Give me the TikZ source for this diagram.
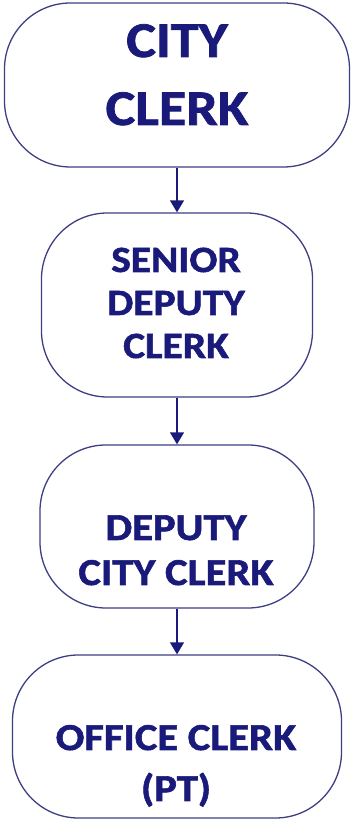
\documentclass[tikz,border=0pt]{standalone}
\usepackage{fontspec}
\setmainfont{Carlito}
\newfontfamily\rolefont{Carlito}[BoldFeatures={FakeStretch=1.12,FakeBold=1.5}]
\usetikzlibrary{arrows.meta}
\definecolor{navy}{RGB}{26,26,122}
\definecolor{boxline}{RGB}{62,62,132}
\tikzset{
  x=1pt, y=1pt,
  role/.style={draw=boxline, line width=1.3pt, rounded corners=66pt, fill=white, inner sep=0pt},
  bigtxt/.style={text=navy, font=\rolefont\fontsize{50}{60}\selectfont\bfseries, anchor=base, inner sep=0pt},
  midtxt/.style={text=navy, font=\rolefont\fontsize{37}{44}\selectfont\bfseries, anchor=base, inner sep=0pt},
  txt/.style={text=navy, font=\rolefont\fontsize{38}{45}\selectfont\bfseries, anchor=base, inner sep=0pt},
  link/.style={draw=navy, line width=1.4pt, -{Triangle[width=14pt,length=12pt]}}
}
\begin{document}
\begin{tikzpicture}
  \useasboundingbox (0,0) rectangle (352,819);
  % boxes (y measured upwards from the bottom edge)
  \node[role, minimum width=345pt, minimum height=164pt] (b1) at (177,734) {};
  \node[role, minimum width=271pt, minimum height=184pt] (b2) at (177,514) {};
  \node[role, minimum width=274pt, minimum height=163pt] (b3) at (177,292.5) {};
  \node[role, minimum width=329pt, minimum height=163pt] (b4) at (177,82.5) {};
  % titles
  \node[bigtxt] (t1a) at (177,762) {CITY};
  \node[bigtxt] (t1b) at (177,694) {CLERK};
  \node[midtxt] (t2a) at (176,547) {SENIOR};
  \node[midtxt] (t2b) at (176,504) {DEPUTY};
  \node[midtxt] (t2c) at (176,461) {CLERK};
  \node[txt] (t3a) at (176,279) {DEPUTY};
  \node[txt] (t3b) at (176,234) {CITY CLERK};
  \node[txt] (t4a) at (176,69) {OFFICE CLERK};
  \node[txt] (t4b) at (176,18) {(PT)};
  % reporting lines
  \draw[link] (b1.south) -- (b2.north);
  \draw[link] (b2.south) -- (b3.north);
  \draw[link] (b3.south) -- (b4.north);
\end{tikzpicture}
\end{document}
